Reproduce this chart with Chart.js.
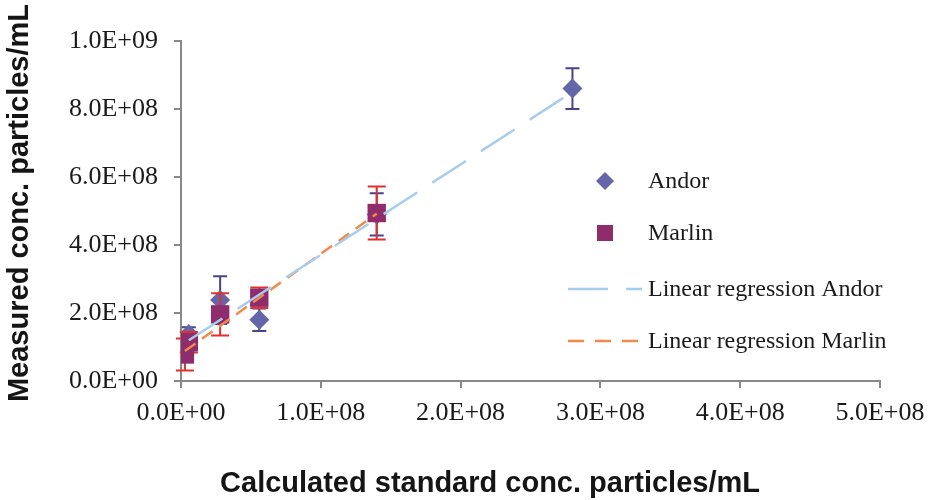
<!DOCTYPE html>
<html>
<head>
<meta charset="utf-8">
<script src="https://cdn.jsdelivr.net/npm/chart.js@4/dist/chart.umd.min.js"></script>
<style>
  html, body { margin: 0; padding: 0; background: #fff; }
  #wrap { position: relative; width: 930px; height: 500px; }
</style>
</head>
<body>
<div id="wrap"><canvas id="chart"></canvas></div>
<script>
// measured vs calculated concentration, two cameras
const andorX = [2.8e8, 1.4e8, 5.6e7, 2.8e7, 5.6e6];
const andorY = [8.6e8, 4.9e8, 1.8e8, 2.38e8, 1.38e8];
const andorErr = [0.6e8, 0.62e8, 0.33e8, 0.7e8, 0.2e8];

const marlinX = [1.4e8, 5.6e7, 2.8e7, 5.6e6, 2.8e6];
const marlinY = [4.94e8, 2.45e8, 1.96e8, 1.14e8, 0.78e8];
const marlinErr = [0.78e8, 0.3e8, 0.62e8, 0.3e8, 0.47e8];

// trendline end points
const andorFitX = [5.6e6, 2.8e8];
const andorFitY = [1.2e8, 8.5e8];
const marlinFitX = [2.8e6, 1.4e8];
const marlinFitY = [0.88e8, 4.92e8];

const xTicks = [0, 1e8, 2e8, 3e8, 4e8, 5e8];
const yTicks = [0, 2e8, 4e8, 6e8, 8e8, 1e9];

const legendLabels = ["Andor", "Marlin", "Linear regression Andor", "Linear regression Marlin"];
const xTitle = "Calculated standard conc. particles/mL";
const yTitle = "Measured conc. particles/mL";

const ANDOR = "#6565a9";
const MARLIN = "#8e2c6c";
const ANDOR_ERR = "#45458a";
const MARLIN_ERR = "#e2302c";
const ANDOR_FIT = "#a8ccef";
const MARLIN_FIT = "#f08a4a";
const AXIS = "#888888";
const SERIF = "'Liberation Serif', 'Times New Roman', serif";
const SANS = "'Liberation Sans', Arial, sans-serif";

function sci(v) {
  const [mant, exp] = Number(v).toExponential(1).split("e");
  const sign = exp[0] === "-" ? "-" : "+";
  return `${mant}E${sign}${String(Math.abs(Number(exp))).padStart(2, "0")}`;
}

function toPoints(xs, ys) {
  return xs.map((x, i) => ({ x, y: ys[i] }));
}

// vertical error bars, drawn just under each dataset's markers
const errorBars = {
  id: "errorBars",
  beforeDatasetDraw(chart, args) {
    const ds = chart.data.datasets[args.index];
    if (!ds.errors) return;
    const { ctx, scales } = chart;
    ctx.save();
    ctx.strokeStyle = ds.errColor;
    ctx.lineWidth = 2;
    ds.data.forEach((p, i) => {
      const px = scales.x.getPixelForValue(p.x);
      const top = scales.y.getPixelForValue(p.y + ds.errors[i]);
      const bot = scales.y.getPixelForValue(p.y - ds.errors[i]);
      ctx.beginPath();
      ctx.moveTo(px, top);
      ctx.lineTo(px, bot);
      ctx.moveTo(px - ds.capHalf, top);
      ctx.lineTo(px + ds.capHalf, top);
      ctx.moveTo(px - ds.capHalf, bot);
      ctx.lineTo(px + ds.capHalf, bot);
      ctx.stroke();
    });
    ctx.restore();
  }
};

// axis titles and the legend block inside the plot
const decorations = {
  id: "decorations",
  afterDraw(chart) {
    const { ctx } = chart;
    ctx.save();
    ctx.fillStyle = "#151515";
    ctx.font = `bold 29px ${SANS}`;
    ctx.textAlign = "center";
    ctx.textBaseline = "middle";
    ctx.fillText(xTitle, 490, 484);
    ctx.save();
    ctx.translate(20, 203);
    ctx.rotate(-Math.PI / 2);
    ctx.fillText(yTitle, 0, 0);
    ctx.restore();

    const rowY = [181, 233, 289, 341];
    const textX = 648;
    const markX = 605;

    // Andor marker
    ctx.fillStyle = ANDOR;
    ctx.beginPath();
    ctx.moveTo(markX, rowY[0] - 9);
    ctx.lineTo(markX + 9, rowY[0]);
    ctx.lineTo(markX, rowY[0] + 9);
    ctx.lineTo(markX - 9, rowY[0]);
    ctx.closePath();
    ctx.fill();
    // Marlin marker
    ctx.fillStyle = MARLIN;
    ctx.fillRect(markX - 8, rowY[1] - 8, 16, 16);

    ctx.lineWidth = 2.5;
    ctx.strokeStyle = ANDOR_FIT;
    ctx.setLineDash([40, 18]);
    ctx.beginPath();
    ctx.moveTo(568, rowY[2]);
    ctx.lineTo(642, rowY[2]);
    ctx.stroke();
    ctx.strokeStyle = MARLIN_FIT;
    ctx.setLineDash([16, 11]);
    ctx.beginPath();
    ctx.moveTo(568, rowY[3]);
    ctx.lineTo(642, rowY[3]);
    ctx.stroke();
    ctx.setLineDash([]);

    ctx.fillStyle = "#1a1a1a";
    ctx.font = `24px ${SERIF}`;
    ctx.textAlign = "left";
    legendLabels.forEach((label, i) => ctx.fillText(label, textX, rowY[i] + 1));
    ctx.restore();
  }
};

const axisGrid = {
  display: true,
  drawOnChartArea: false,
  drawTicks: true,
  tickLength: 7,
  color: AXIS,
  lineWidth: 2
};

new Chart(document.getElementById("chart"), {
  type: "scatter",
  data: {
    datasets: [
      {
        label: legendLabels[2],
        data: toPoints(andorFitX, andorFitY),
        showLine: true,
        borderColor: ANDOR_FIT,
        borderWidth: 2.5,
        borderDash: [40, 18],
        pointRadius: 0,
        order: 0
      },
      {
        label: legendLabels[3],
        data: toPoints(marlinFitX, marlinFitY),
        showLine: true,
        borderColor: MARLIN_FIT,
        borderWidth: 2.5,
        borderDash: [13, 8],
        pointRadius: 0,
        order: 0
      },
      {
        label: legendLabels[1],
        data: toPoints(marlinX, marlinY),
        errors: marlinErr,
        errColor: MARLIN_ERR,
        capHalf: 9,
        pointStyle: "rect",
        pointRadius: 13,
        backgroundColor: MARLIN,
        borderColor: MARLIN,
        borderWidth: 0,
        order: 1
      },
      {
        label: legendLabels[0],
        data: toPoints(andorX, andorY),
        errors: andorErr,
        errColor: ANDOR_ERR,
        capHalf: 7,
        pointStyle: "rectRot",
        pointRadius: 10,
        backgroundColor: ANDOR,
        borderColor: ANDOR,
        borderWidth: 0,
        order: 2
      }
    ]
  },
  options: {
    responsive: true,
    maintainAspectRatio: false,
    animation: false,
    layout: { padding: { top: 41, right: 50, bottom: 0, left: 0 } },
    plugins: {
      legend: { display: false },
      tooltip: { enabled: false }
    },
    scales: {
      x: {
        type: "linear",
        min: xTicks[0],
        max: xTicks[xTicks.length - 1],
        afterBuildTicks: (scale) => { scale.ticks = xTicks.map((value) => ({ value })); },
        afterFit: (scale) => {
          scale.height = 119;
          scale.paddingLeft = 0;
          scale.paddingRight = 0;
        },
        border: { color: AXIS, width: 2 },
        grid: axisGrid,
        ticks: {
          callback: sci,
          color: "#1a1a1a",
          padding: 10,
          maxRotation: 0,
          font: { family: SERIF, size: 26 }
        }
      },
      y: {
        type: "linear",
        min: yTicks[0],
        max: yTicks[yTicks.length - 1],
        afterBuildTicks: (scale) => { scale.ticks = yTicks.map((value) => ({ value })); },
        afterFit: (scale) => {
          scale.width = 181;
          scale.paddingTop = 0;
          scale.paddingBottom = 0;
        },
        border: { color: AXIS, width: 2 },
        grid: axisGrid,
        ticks: {
          callback: sci,
          color: "#1a1a1a",
          padding: 16,
          font: { family: SERIF, size: 26 }
        }
      }
    }
  },
  plugins: [errorBars, decorations]
});
</script>
</body>
</html>
